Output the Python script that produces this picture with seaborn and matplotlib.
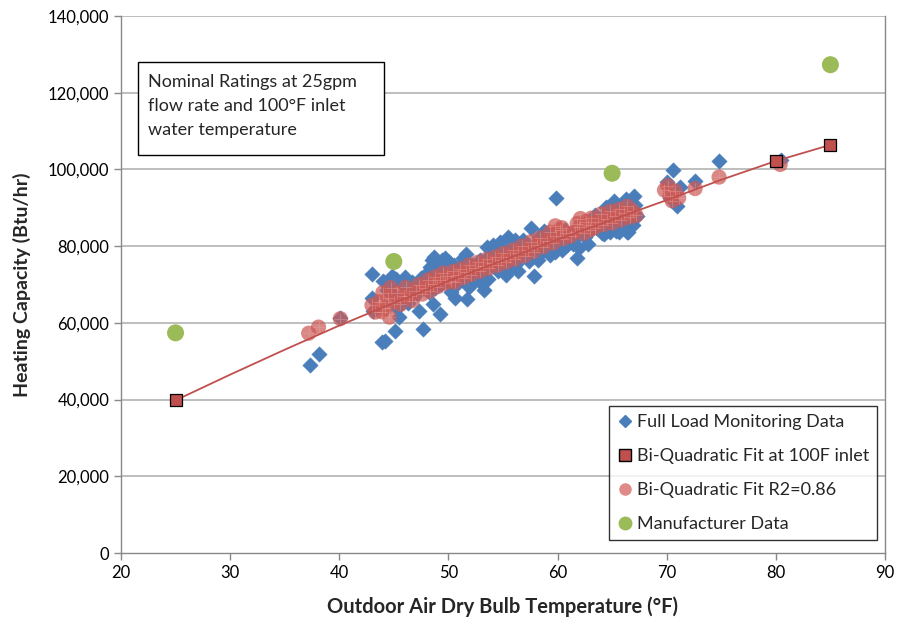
import matplotlib
matplotlib.use("Agg")
import matplotlib.pyplot as plt
import seaborn as sns
import pandas as pd
from matplotlib.ticker import FuncFormatter
from matplotlib.lines import Line2D
from matplotlib.patches import Rectangle

# ---------------- data ----------------
monitor_x = [37.3, 38.1, 40.1, 43.0, 43.0, 43.1, 43.9, 44.2, 44.6, 44.8, 45.2, 45.3, 45.1, 45.5, 45.9,
             46.3, 46.7, 47.1, 47.3, 47.7, 47.9, 48.3, 48.5, 48.7, 48.9, 49.0, 48.8, 48.6, 49.2, 49.4,
             49.6, 49.8, 50.1, 50.3, 50.2, 50.6, 50.8, 51.0, 51.3, 51.5, 51.7, 51.9, 52.2, 52.4, 52.6,
             52.9, 53.1, 53.3, 53.5, 53.7, 53.9, 54.1, 54.3, 54.5, 54.7, 54.9, 55.1, 55.3, 55.5, 55.8,
             56.0, 56.2, 56.5, 56.8, 57.1, 57.4, 57.6, 57.8, 58.0, 58.3, 58.5, 58.8, 59.1, 59.3, 59.6,
             59.9, 60.1, 60.4, 60.7, 61.0, 61.4, 61.8, 62.2, 62.5, 62.8, 63.2, 63.6, 64.0, 64.3, 64.6,
             64.9, 65.2, 65.4, 65.6, 65.9, 66.1, 66.3, 66.5, 66.7, 67.0, 67.3, 70.0, 70.3, 70.6, 70.9,
             71.2, 72.6, 74.8, 80.5,
             44.0, 44.4, 45.0, 46.0, 46.5, 47.5, 48.0, 48.2, 48.4, 49.1, 49.3, 49.7, 50.0, 50.5, 51.1,
             51.6, 52.0, 52.8, 53.4, 53.6, 54.0, 54.4, 54.8, 55.2, 55.6, 56.1, 56.4, 56.9, 57.3, 57.9,
             58.2, 58.6, 59.0, 59.5, 59.8, 60.3, 60.9, 61.2, 61.6, 62.0, 63.0, 63.4, 63.9, 64.4, 65.0,
             65.8, 66.2, 66.9, 67.1, 64.1, 64.8, 65.6, 66.4]
monitor_y = [49100, 51800, 61300, 72800, 66500, 63200, 54900, 55300, 70100, 72200, 71500, 64000, 58000, 61500, 69800,
             65200, 70600, 67400, 63200, 58300, 70900, 74600, 76300, 77200, 75200, 72400, 69000, 65000, 62300, 76500,
             74000, 71000, 75800, 73200, 68000, 66500, 70200, 74600, 76900, 72000, 66200, 69300, 75100, 71400, 73800,
             76400, 70200, 68500, 79800, 77500, 75000, 80400, 78600, 73400, 81200, 79300, 76800, 72500, 82300, 80100,
             77600, 75400, 79400, 81700, 78500, 76200, 84600, 72200, 80600, 82400, 78200, 84000, 80900, 77600, 83500,
             92600, 81100, 79000, 84200, 82000, 80500, 76900, 84100, 82300, 80600, 86500, 84800, 87300, 83200, 89000,
             86600, 91800, 84000, 88500, 90600, 86400, 92300, 83800, 89700, 93100, 87800, 96600, 92600, 99900, 90400,
             95400, 96900, 102300, 102500,
             71000, 68500, 67200, 72000, 68300, 71800, 73100, 68100, 71000, 73800, 70100, 77000, 72500, 75000, 71500,
             78000, 73000, 72000, 74500, 71500, 77000, 75800, 76500, 78200, 74200, 81500, 73500, 77800, 80200, 79000,
             76500, 81800, 79200, 81300, 78600, 83400, 80300, 83000, 82000, 79500, 83900, 88000, 85700, 90200, 85000,
             87100, 89000, 85500, 90800, 83500, 83600, 83700, 83800]

fitpts_x = [37.2, 38.1, 40.1, 43.0, 43.3, 43.6, 44.0, 44.2, 44.5, 44.7, 45.0, 45.3, 45.6, 45.9, 46.1,
            46.4, 46.7, 47.0, 47.3, 47.6, 47.9, 48.1, 48.3, 48.6, 48.8, 49.0, 49.2, 49.5, 49.7, 49.9,
            50.2, 50.4, 50.6, 50.9, 51.1, 51.4, 51.6, 51.9, 52.1, 52.4, 52.7, 52.9, 53.2, 53.5, 53.7,
            54.0, 54.3, 54.5, 54.8, 55.0, 55.3, 55.6, 55.9, 56.1, 56.4, 56.7, 57.0, 57.3, 57.6, 57.8,
            58.1, 58.4, 58.7, 59.0, 59.3, 59.6, 59.9, 60.2, 60.5, 60.8, 61.2, 61.6, 62.0, 62.4, 62.8,
            63.1, 63.4, 63.7, 64.0, 64.2, 64.5, 64.8, 65.0, 65.3, 65.6, 65.8, 66.1, 66.4, 66.6, 66.9,
            67.2, 69.8, 70.1, 70.3, 70.5, 70.8, 71.1, 72.6, 74.8, 80.4,
            43.9, 44.6, 62.1, 62.6, 61.8, 63.0, 59.8, 60.4]
fitpts_y = [57300, 58900, 61100, 64600, 62800, 65500, 67900, 63900, 66400, 69200, 65400, 67700, 64800, 66900, 69300,
            67000, 65800, 68400, 70000, 67500, 69100, 71200, 68300, 70200, 72000, 69400, 71300, 73000, 70300, 72100,
            71000, 73400, 70600, 72500, 74000, 71800, 73300, 75100, 72600, 74200, 75800, 73400, 74900, 76600, 74200,
            75600, 77200, 75000, 76400, 78100, 75800, 77300, 79000, 76600, 78200, 80000, 77500, 79100, 81200, 78600,
            80300, 82100, 79800, 81400, 83600, 80800, 82600, 84300, 81900, 83400, 82600, 83800, 84900, 83300, 85600,
            87300, 84800, 86400, 88400, 85600, 87200, 89100, 86000, 87900, 89600, 86800, 88600, 90400, 87500, 89200,
            88000, 94600, 95800, 93000, 91800, 94400, 92600, 95000, 98000, 101300,
            62900, 61500, 87200, 86400, 85900, 84300, 85300, 84800]

curve_x = [25, 30, 35, 40, 45, 50, 55, 60, 65, 70, 75, 80, 85]
curve_y = [39800, 46500, 53000, 59300, 65200, 70900, 76300, 81700, 86900, 92000, 97300, 102200, 106400]
curve_marker_idx = [0, 11, 12]

maker_x = [25, 45, 65, 85]
maker_y = [57400, 76000, 99000, 127300]

x_ticks = [20, 30, 40, 50, 60, 70, 80, 90]
y_ticks = [0, 20000, 40000, 60000, 80000, 100000, 120000, 140000]

# ---------------- style ----------------
sns.set_theme(style="white")
plt.rcParams['font.family'] = ['Lato', 'DejaVu Sans']

fig = plt.figure(figsize=(9, 6.22), dpi=100)
ax = fig.add_axes([0.1344, 0.1109, 0.8489, 0.8634])

blue = "#4a7ebb"
red = "#c0504d"
green = "#9bbb59"

df_mon = pd.DataFrame({"x": monitor_x, "y": monitor_y})
df_fit = pd.DataFrame({"x": fitpts_x, "y": fitpts_y})
df_curve = pd.DataFrame({"x": curve_x, "y": curve_y})
df_mk = pd.DataFrame({"x": maker_x, "y": maker_y})

for yt in y_ticks[1:]:
    ax.axhline(yt, color="#b3b3b3", lw=1.2, zorder=0)

sns.scatterplot(data=df_mon, x="x", y="y", ax=ax, marker="D", s=62, color=blue,
                edgecolor=blue, linewidth=0.3, zorder=2, legend=False)
sns.scatterplot(data=df_fit, x="x", y="y", ax=ax, marker="o", s=120, color="#cc5a56",
                edgecolor="none", alpha=0.72, zorder=3, legend=False)
sns.scatterplot(data=df_fit, x="x", y="y", ax=ax, marker="+", s=80, color="#e8a3a0",
                linewidth=0.6, alpha=0.5, zorder=3, legend=False)
sns.lineplot(data=df_curve, x="x", y="y", ax=ax, sort=False, color=red, lw=1.3,
             zorder=4, legend=False)
df_sq = df_curve.iloc[curve_marker_idx]
sns.scatterplot(data=df_sq, x="x", y="y", ax=ax, marker="s", s=75, color=red,
                edgecolor="black", linewidth=0.9, zorder=5, legend=False)
sns.scatterplot(data=df_mk, x="x", y="y", ax=ax, marker="o", s=150, color=green,
                edgecolor="none", zorder=6, legend=False)

ax.set_xlim(20, 90)
ax.set_ylim(0, 140000)
ax.set_xticks(x_ticks)
ax.set_yticks(y_ticks)
ax.yaxis.set_major_formatter(FuncFormatter(lambda v, p: f"{int(v):,}"))
ax.tick_params(axis="both", labelsize=12, length=5, width=1,
               direction="out", bottom=True, left=True)
ax.tick_params(axis="x", colors="#888888", labelcolor="black")
ax.tick_params(axis="y", colors="#888888", labelcolor="black")
for sp in ax.spines.values():
    sp.set_color("#888888")
    sp.set_linewidth(1.0)
ax.spines["top"].set_visible(False)

ax.set_xlabel("Outdoor Air Dry Bulb Temperature (°F)", fontsize=14.5, fontweight="bold", labelpad=11)
ax.set_ylabel("Heating Capacity (Btu/hr)", fontsize=14, fontweight="bold", labelpad=12)

# legend
handles = [
    Line2D([], [], marker="D", ls="none", color=blue, markersize=6),
    Line2D([], [], marker="s", ls="none", markerfacecolor=red, markeredgecolor="black", markersize=8),
    Line2D([], [], marker="o", ls="none", color="#e08a87", markersize=8),
    Line2D([], [], marker="o", ls="none", color=green, markersize=9),
]
labels = ["Full Load Monitoring Data", "Bi-Quadratic Fit at 100F inlet",
          "Bi-Quadratic Fit R2=0.86", "Manufacturer Data"]
leg = ax.legend(handles, labels, loc="lower right", bbox_to_anchor=(0.9895, 0.024),
                fontsize=13, frameon=True, fancybox=False, handletextpad=0.25,
                handlelength=0.8, labelspacing=1.0, borderpad=0.45, borderaxespad=0)
leg.get_frame().set_edgecolor("black")
leg.get_frame().set_linewidth(1.0)

# annotation box
ax.add_patch(Rectangle((0.0223, 0.741), 0.3217, 0.1733, transform=ax.transAxes,
                       facecolor="white", edgecolor="black", lw=1.0, zorder=9))
ax.text(0.0353, 0.892, "Nominal Ratings at 25gpm\nflow rate and 100°F inlet\nwater temperature",
        transform=ax.transAxes, fontsize=13, va="top", ha="left", linespacing=1.62,
        zorder=10)

fig.savefig("out.png", dpi=100)
